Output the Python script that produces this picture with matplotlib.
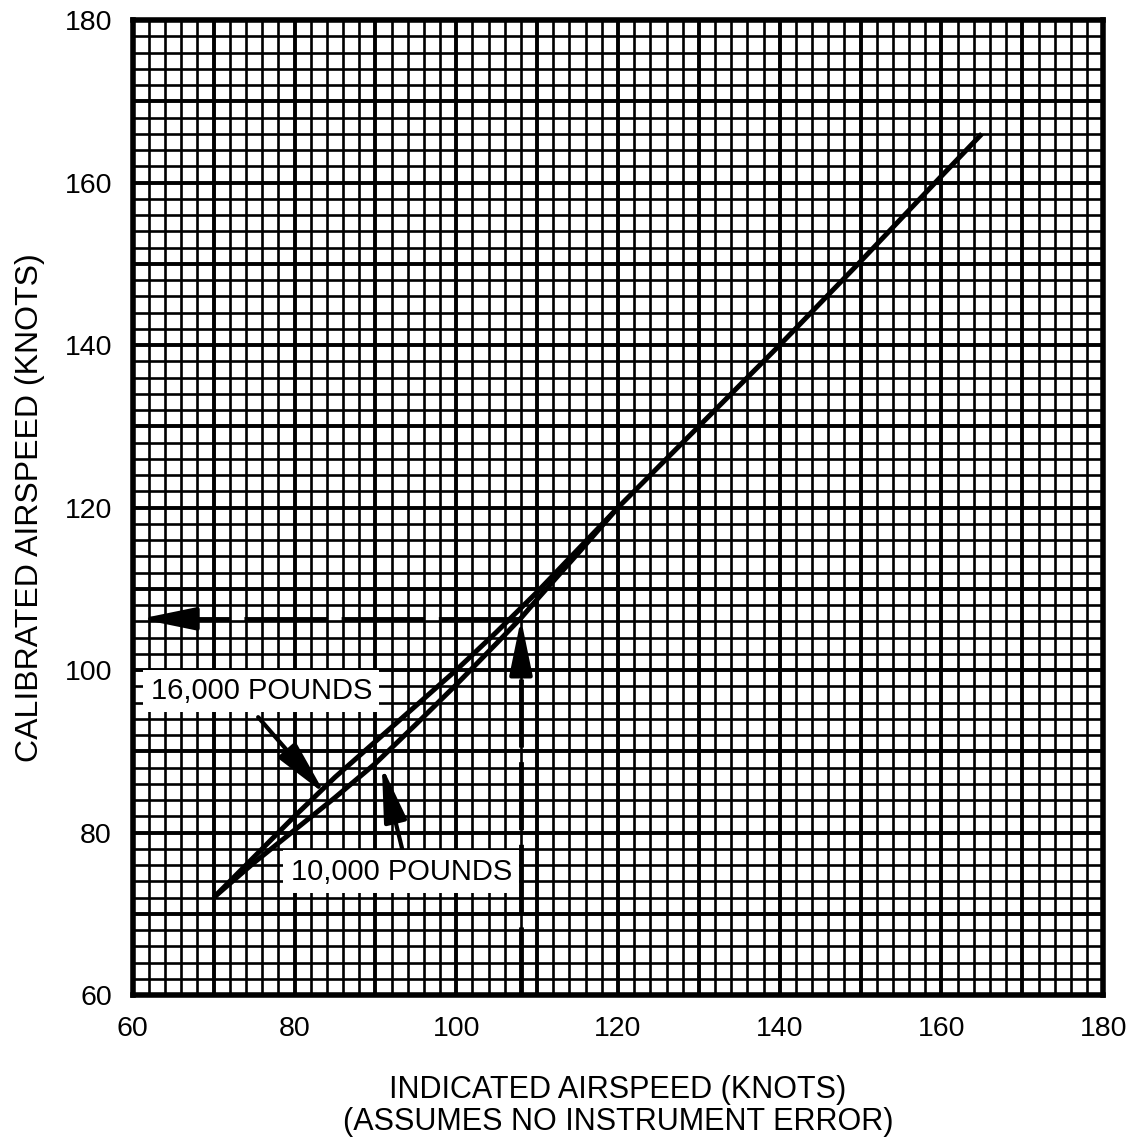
import matplotlib
matplotlib.use("Agg")
import matplotlib.pyplot as plt
from matplotlib.ticker import MultipleLocator, FuncFormatter

plt.rcParams['font.family'] = ['Liberation Sans', 'DejaVu Sans']

# indicated vs calibrated airspeed (knots)
ias_16k = [70, 75, 80, 85, 90, 95, 100, 105, 110, 115, 120, 130, 140, 150, 160, 165]
cas_16k = [72, 77, 82, 86.8, 91.2, 95.6, 100, 104.7, 109.6, 114.8, 120, 130, 140, 150.3, 160.8, 166]
ias_10k = [70, 75, 80, 85, 90, 95, 100, 105, 108, 110, 115, 120]
cas_10k = [72, 76.3, 80.3, 84.3, 88.5, 93.3, 98.2, 103.3, 106.4, 108.7, 114.3, 120]

# example reading
read_ias = 108
read_cas = 106.3

fig = plt.figure(figsize=(11.35, 11.39), dpi=100)
ax = fig.add_axes([0.117, 0.1264, 0.855, 0.856])

ax.set_xlim(60, 180)
ax.set_ylim(60, 180)

ax.xaxis.set_major_locator(MultipleLocator(10))
ax.yaxis.set_major_locator(MultipleLocator(10))
ax.xaxis.set_minor_locator(MultipleLocator(2))
ax.yaxis.set_minor_locator(MultipleLocator(2))
lab = FuncFormatter(lambda v, p: "%d" % v if round(v) % 20 == 0 else "")
ax.xaxis.set_major_formatter(lab)
ax.yaxis.set_major_formatter(lab)
ax.tick_params(which='both', length=0, labelsize=20.5, pad=15)
ax.grid(which='major', color='black', lw=2.8)
ax.grid(which='minor', color='black', lw=1.9)
ax.set_axisbelow(True)
for s in ax.spines.values():
    s.set_linewidth(4)

ax.plot(ias_16k, cas_16k, color='black', lw=3.6, solid_capstyle='butt', zorder=3)
ax.plot(ias_10k, cas_10k, color='black', lw=3.6, solid_capstyle='butt', zorder=3)

head = dict(arrowstyle='-|>,head_length=1.7,head_width=0.35', color='black',
            lw=3, mutation_scale=20, shrinkA=0, shrinkB=0)

# dashed reading lines
ax.plot([read_ias, read_ias], [60, read_cas - 5], color='black', lw=3.5,
        dashes=(14, 3), zorder=3)
ax.plot([read_ias, 65], [read_cas, read_cas], color='black', lw=3.5,
        dashes=(17, 3), zorder=3)
ax.annotate("", xy=(read_ias, read_cas), xytext=(read_ias, read_cas - 6),
            arrowprops=head, zorder=4)
ax.annotate("", xy=(60.9, read_cas), xytext=(67, read_cas),
            arrowprops=head, zorder=4)

box = dict(boxstyle='square,pad=0.25', fc='white', ec='none')
ax.text(75.9, 97.4, "16,000 POUNDS", fontsize=21, ha='center', va='center',
        bbox=box, zorder=5)
ax.text(93.2, 75.2, "10,000 POUNDS", fontsize=21, ha='center', va='center',
        bbox=box, zorder=5)

ax.annotate("", xy=(83.8, 84.7), xytext=(75.5, 94.2), arrowprops=head, zorder=4)
ax.annotate("", xy=(90.8, 88.2), xytext=(93.6, 76.8), arrowprops=head, zorder=4)

ax.set_ylabel("CALIBRATED AIRSPEED (KNOTS)", fontsize=23, labelpad=14)
ax.set_xlabel("INDICATED AIRSPEED (KNOTS)\n(ASSUMES NO INSTRUMENT ERROR)",
              fontsize=22, labelpad=24, linespacing=1.1)

fig.savefig("out.png", dpi=100)
